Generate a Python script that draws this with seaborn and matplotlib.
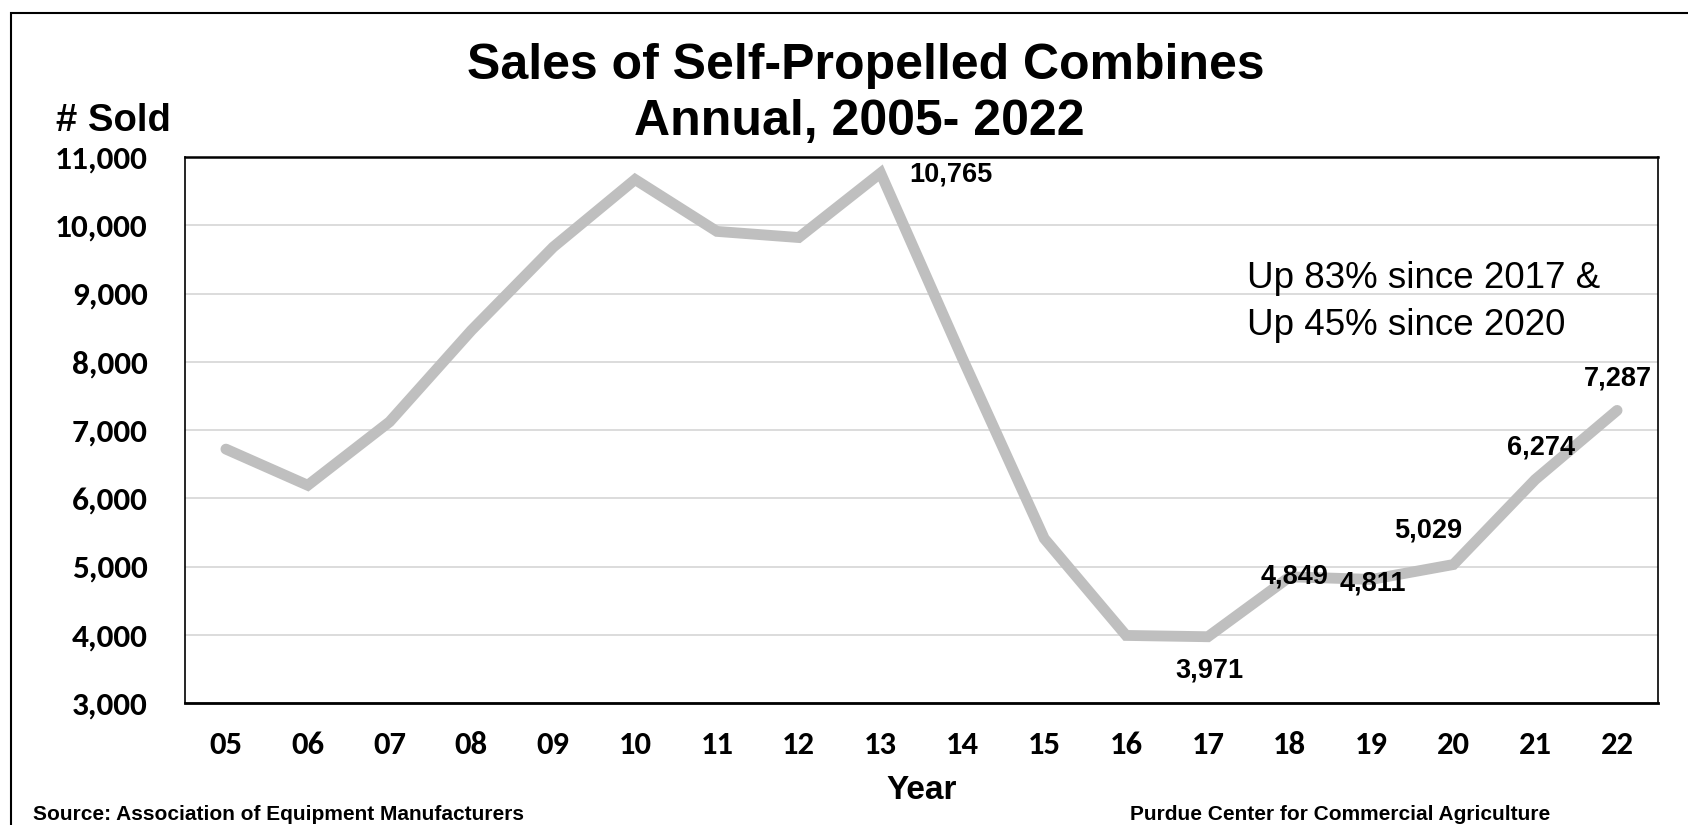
import matplotlib
matplotlib.use("Agg")
import matplotlib.pyplot as plt
from matplotlib import font_manager
from matplotlib.ticker import FixedLocator, FuncFormatter
from matplotlib.patches import Rectangle
import seaborn as sns
import pandas as pd

years = ["05", "06", "07", "08", "09", "10", "11", "12", "13",
         "14", "15", "16", "17", "18", "19", "20", "21", "22"]
units_sold = [6720, 6190, 7120, 8460, 9680, 10670, 9910, 9820, 10765,
              8050, 5410, 3990, 3971, 4849, 4811, 5029, 6274, 7287]
labelled_years = ["13", "17", "18", "19", "20", "21", "22"]
y_ticks = [3000, 4000, 5000, 6000, 7000, 8000, 9000, 10000, 11000]

sns.set_theme(style="white")
plt.rcParams["font.family"] = ["Liberation Sans", "DejaVu Sans"]
for key in ["text.color", "axes.labelcolor", "xtick.color", "ytick.color"]:
    plt.rcParams[key] = "black"

# tick labels use a Calibri-metric face when one is available
installed = {f.name for f in font_manager.fontManager.ttflist}
if "Carlito" in installed:
    tick_family, xtick_size, ytick_size = "Carlito", 23.5, 24
else:
    tick_family, xtick_size, ytick_size = "Liberation Sans", 21, 21.5

W, H = 1688, 825
df = pd.DataFrame({"idx": range(len(years)), "year": years, "sold": units_sold})

fig = plt.figure(figsize=(W / 100, H / 100), dpi=100)
ax = fig.add_axes([185 / W, 1 - 703 / H, (1658 - 185) / W, (703 - 157) / H])

sns.lineplot(data=df, x="idx", y="sold", ax=ax, color="#bfbfbf", linewidth=7.8,
             solid_joinstyle="miter", solid_capstyle="round", zorder=3)

ax.set_xlim(-0.5, len(years) - 0.5)
ax.set_ylim(y_ticks[0], y_ticks[-1])
ax.yaxis.set_major_locator(FixedLocator(y_ticks))
ax.yaxis.set_major_formatter(FuncFormatter(lambda v, p: f"{int(v):,}"))
ax.grid(axis="y", color="#d9d9d9", linewidth=1.3, zorder=0)
ax.grid(axis="x", visible=False)

ax.set_xticks(range(len(years)))
ax.set_xticklabels(years)
ax.set_xticks([i - 0.5 for i in range(len(years) + 1)], minor=True)
ax.tick_params(axis="x", which="major", length=0, pad=20, labelsize=xtick_size)
ax.tick_params(axis="x", which="minor", length=17, width=1.3, direction="inout", color="black")
ax.tick_params(axis="y", length=0, pad=27, labelsize=ytick_size)
for lab in ax.get_xticklabels() + ax.get_yticklabels():
    lab.set_fontweight("bold")
    lab.set_fontfamily(tick_family)

for s in ["left", "right", "top"]:
    ax.spines[s].set_color("black")
    ax.spines[s].set_linewidth(1.2)
ax.spines["top"].set_linewidth(1.8)
ax.spines["bottom"].set_color("black")
ax.spines["bottom"].set_linewidth(2)

ax.set_xlabel("Year", fontweight="bold", fontsize=24, labelpad=12)
ax.set_ylabel("")

# value labels on selected years (offsets in pixels from the point)
offsets = {"13": (29, -1, "left"),
           "17": (2, -34, "center"),
           "18": (5, 0, "center"),
           "19": (1, -4, "center"),
           "20": (-25, 34, "center"),
           "21": (6, 32, "center"),
           "22": (1, 32, "center")}
for yr in labelled_years:
    i = years.index(yr)
    v = units_sold[i]
    dx, dy, ha = offsets[yr]
    ax.annotate(f"{v:,}", (i, v), xytext=(dx, dy), textcoords="offset pixels",
                ha=ha, va="center", fontsize=19.5, fontweight="bold", color="black", zorder=5)

fig.text(1247 / W, 1 - 288.5 / H, "Up 83% since 2017 &", ha="left", va="baseline", fontsize=26.5)
fig.text(1247 / W, 1 - 335 / H, "Up 45% since 2020", ha="left", va="baseline", fontsize=26.5)

fig.text(866 / W, 1 - 79 / H, "Sales of Self-Propelled Combines", ha="center", va="baseline",
         fontsize=36, fontweight="bold")
fig.text(859 / W, 1 - 135 / H, "Annual, 2005- 2022", ha="center", va="baseline",
         fontsize=36, fontweight="bold")
fig.text(56 / W, 1 - 131 / H, "# Sold", ha="left", va="baseline", fontsize=27.5, fontweight="bold")
fig.text(33 / W, 1 - 820 / H, "Source: Association of Equipment Manufacturers", ha="left",
         va="baseline", fontsize=15, fontweight="bold")
fig.text(1340 / W, 1 - 820 / H, "Purdue Center for Commercial Agriculture", ha="center",
         va="baseline", fontsize=15, fontweight="bold")

fig.patches.append(Rectangle((11 / W, -0.05), 1.2, 1 - 13 / H + 0.05, transform=fig.transFigure,
                             fill=False, edgecolor="black", linewidth=1.5))

fig.savefig("out.png", dpi=100)
